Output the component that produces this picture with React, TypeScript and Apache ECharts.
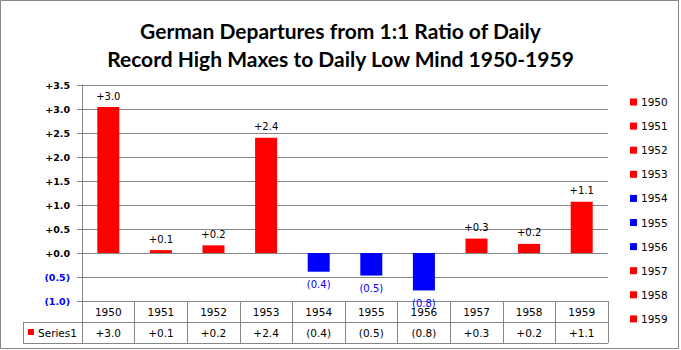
import React, { useEffect, useRef } from "react";
import * as echarts from "echarts";

const categories = ["1950", "1951", "1952", "1953", "1954", "1955", "1956", "1957", "1958", "1959"];
const values = [3.04, 0.06, 0.16, 2.4, -0.39, -0.47, -0.78, 0.3, 0.19, 1.07];
const seriesName = "Series1";
const yMin = -1;
const yMax = 3.5;
const yStep = 0.5;
const titleLines = [
  "German Departures from 1:1 Ratio of Daily",
  "Record High Maxes to Daily Low Mind 1950-1959",
];

const RED = "#ff0000";
const BLUE = "#0000ff";
const GRAY = "#868686";
const FONT = "'DejaVu Sans', sans-serif";

const W = 681;
const H = 350;
const GL = 82;
const GR = 608;
const GT = 85;
const GB = 301;
const ROW = 21;

function fmt(v: number): string {
  const s = Math.abs(v).toFixed(1);
  return v >= 0 ? "+" + s : "(" + s + ")";
}

export default function App() {
  const ref = useRef<HTMLDivElement>(null);
  useEffect(() => {
    if (!ref.current) return;
    const chart = echarts.init(ref.current, undefined, { renderer: "svg" });

    const graphic: any[] = [];
    graphic.push({
      type: "rect",
      shape: { x: 0.5, y: 0.5, width: 678, height: 348 },
      style: { fill: "none", stroke: GRAY, lineWidth: 1 },
      silent: true,
    });
    const r1 = GB + ROW;
    const r2 = GB + 2 * ROW;
    graphic.push({ type: "line", shape: { x1: 23, y1: r1 + 0.5, x2: GR, y2: r1 + 0.5 }, style: { stroke: GRAY, lineWidth: 1 } });
    graphic.push({ type: "line", shape: { x1: 23, y1: r2 + 0.5, x2: GR, y2: r2 + 0.5 }, style: { stroke: GRAY, lineWidth: 1 } });
    graphic.push({ type: "line", shape: { x1: 23.5, y1: r1, x2: 23.5, y2: r2 }, style: { stroke: GRAY, lineWidth: 1 } });
    graphic.push({ type: "rect", shape: { x: 28, y: r1 + 7, width: 6, height: 6 }, style: { fill: RED } });
    graphic.push({
      type: "text",
      x: 38,
      y: r1 + 11,
      style: { text: seriesName, fill: "#000", font: "10.5px " + FONT, verticalAlign: "middle", align: "left" },
    });
    categories.forEach((c, i) => {
      const cy = 102 + i * 24.1;
      const col = values[i] >= 0 ? RED : BLUE;
      graphic.push({ type: "rect", shape: { x: 630, y: cy - 3.5, width: 7, height: 7 }, style: { fill: col } });
      graphic.push({
        type: "text",
        x: 641,
        y: cy,
        style: { text: c, fill: "#000", font: "10.5px " + FONT, verticalAlign: "middle", align: "left" },
      });
    });

    chart.setOption({
      animation: false,
      backgroundColor: "#fff",
      title: {
        text: titleLines.join("\n"),
        left: "center",
        top: 11,
        textStyle: {
          fontFamily: "Lato, 'Open Sans', sans-serif",
          fontWeight: "bold",
          fontSize: 21,
          lineHeight: 28,
          color: "#000",
        },
      },
      grid: { left: GL, right: W - GR, top: GT, bottom: H - GB, containLabel: false },
      xAxis: {
        type: "category",
        data: categories,
        boundaryGap: true,
        axisLine: { show: true, onZero: false, lineStyle: { color: GRAY, width: 1 } },
        axisTick: { show: true, length: 2 * ROW, lineStyle: { color: GRAY, width: 1 } },
        splitLine: { show: false },
        axisLabel: {
          margin: 0,
          interval: 0,
          formatter: (v: string, i: number) => "{y|" + v + "}\n{v|" + fmt(values[i]) + "}",
          rich: {
            y: { fontFamily: FONT, fontSize: 10.5, lineHeight: ROW, color: "#000", height: ROW },
            v: { fontFamily: FONT, fontSize: 10.5, lineHeight: ROW, color: "#000", height: ROW },
          },
        },
      },
      yAxis: {
        type: "value",
        min: yMin,
        max: yMax,
        interval: yStep,
        axisLine: { show: true, lineStyle: { color: GRAY, width: 1 } },
        axisTick: { show: true, length: 5, lineStyle: { color: GRAY, width: 1 } },
        splitLine: { show: true, lineStyle: { color: GRAY, width: 1 } },
        axisLabel: {
          margin: 12,
          formatter: (v: number) => (v < 0 ? "{n|" + fmt(v) + "}" : "{p|" + fmt(v) + "}"),
          rich: {
            p: { fontFamily: FONT, fontWeight: "bold", fontSize: 9.5, color: "#000" },
            n: { fontFamily: FONT, fontWeight: "bold", fontSize: 9.5, color: BLUE },
          },
        },
      },
      series: [
        {
          name: seriesName,
          type: "bar",
          barWidth: 22,
          data: values.map((v) => ({
            value: v,
            itemStyle: { color: v >= 0 ? RED : BLUE },
            label: v < 0 ? { position: "bottom", color: BLUE, distance: 8 } : { position: "top", color: "#000", distance: 6 },
          })),
          label: {
            show: true,
            fontFamily: FONT,
            fontSize: 10,
            formatter: (p: any) => fmt(p.value),
          },
        },
      ],
      graphic,
    });
    return () => chart.dispose();
  }, []);
  return <div ref={ref} style={{ position: "absolute", left: 0, top: 0, width: W, height: H }} />;
}
